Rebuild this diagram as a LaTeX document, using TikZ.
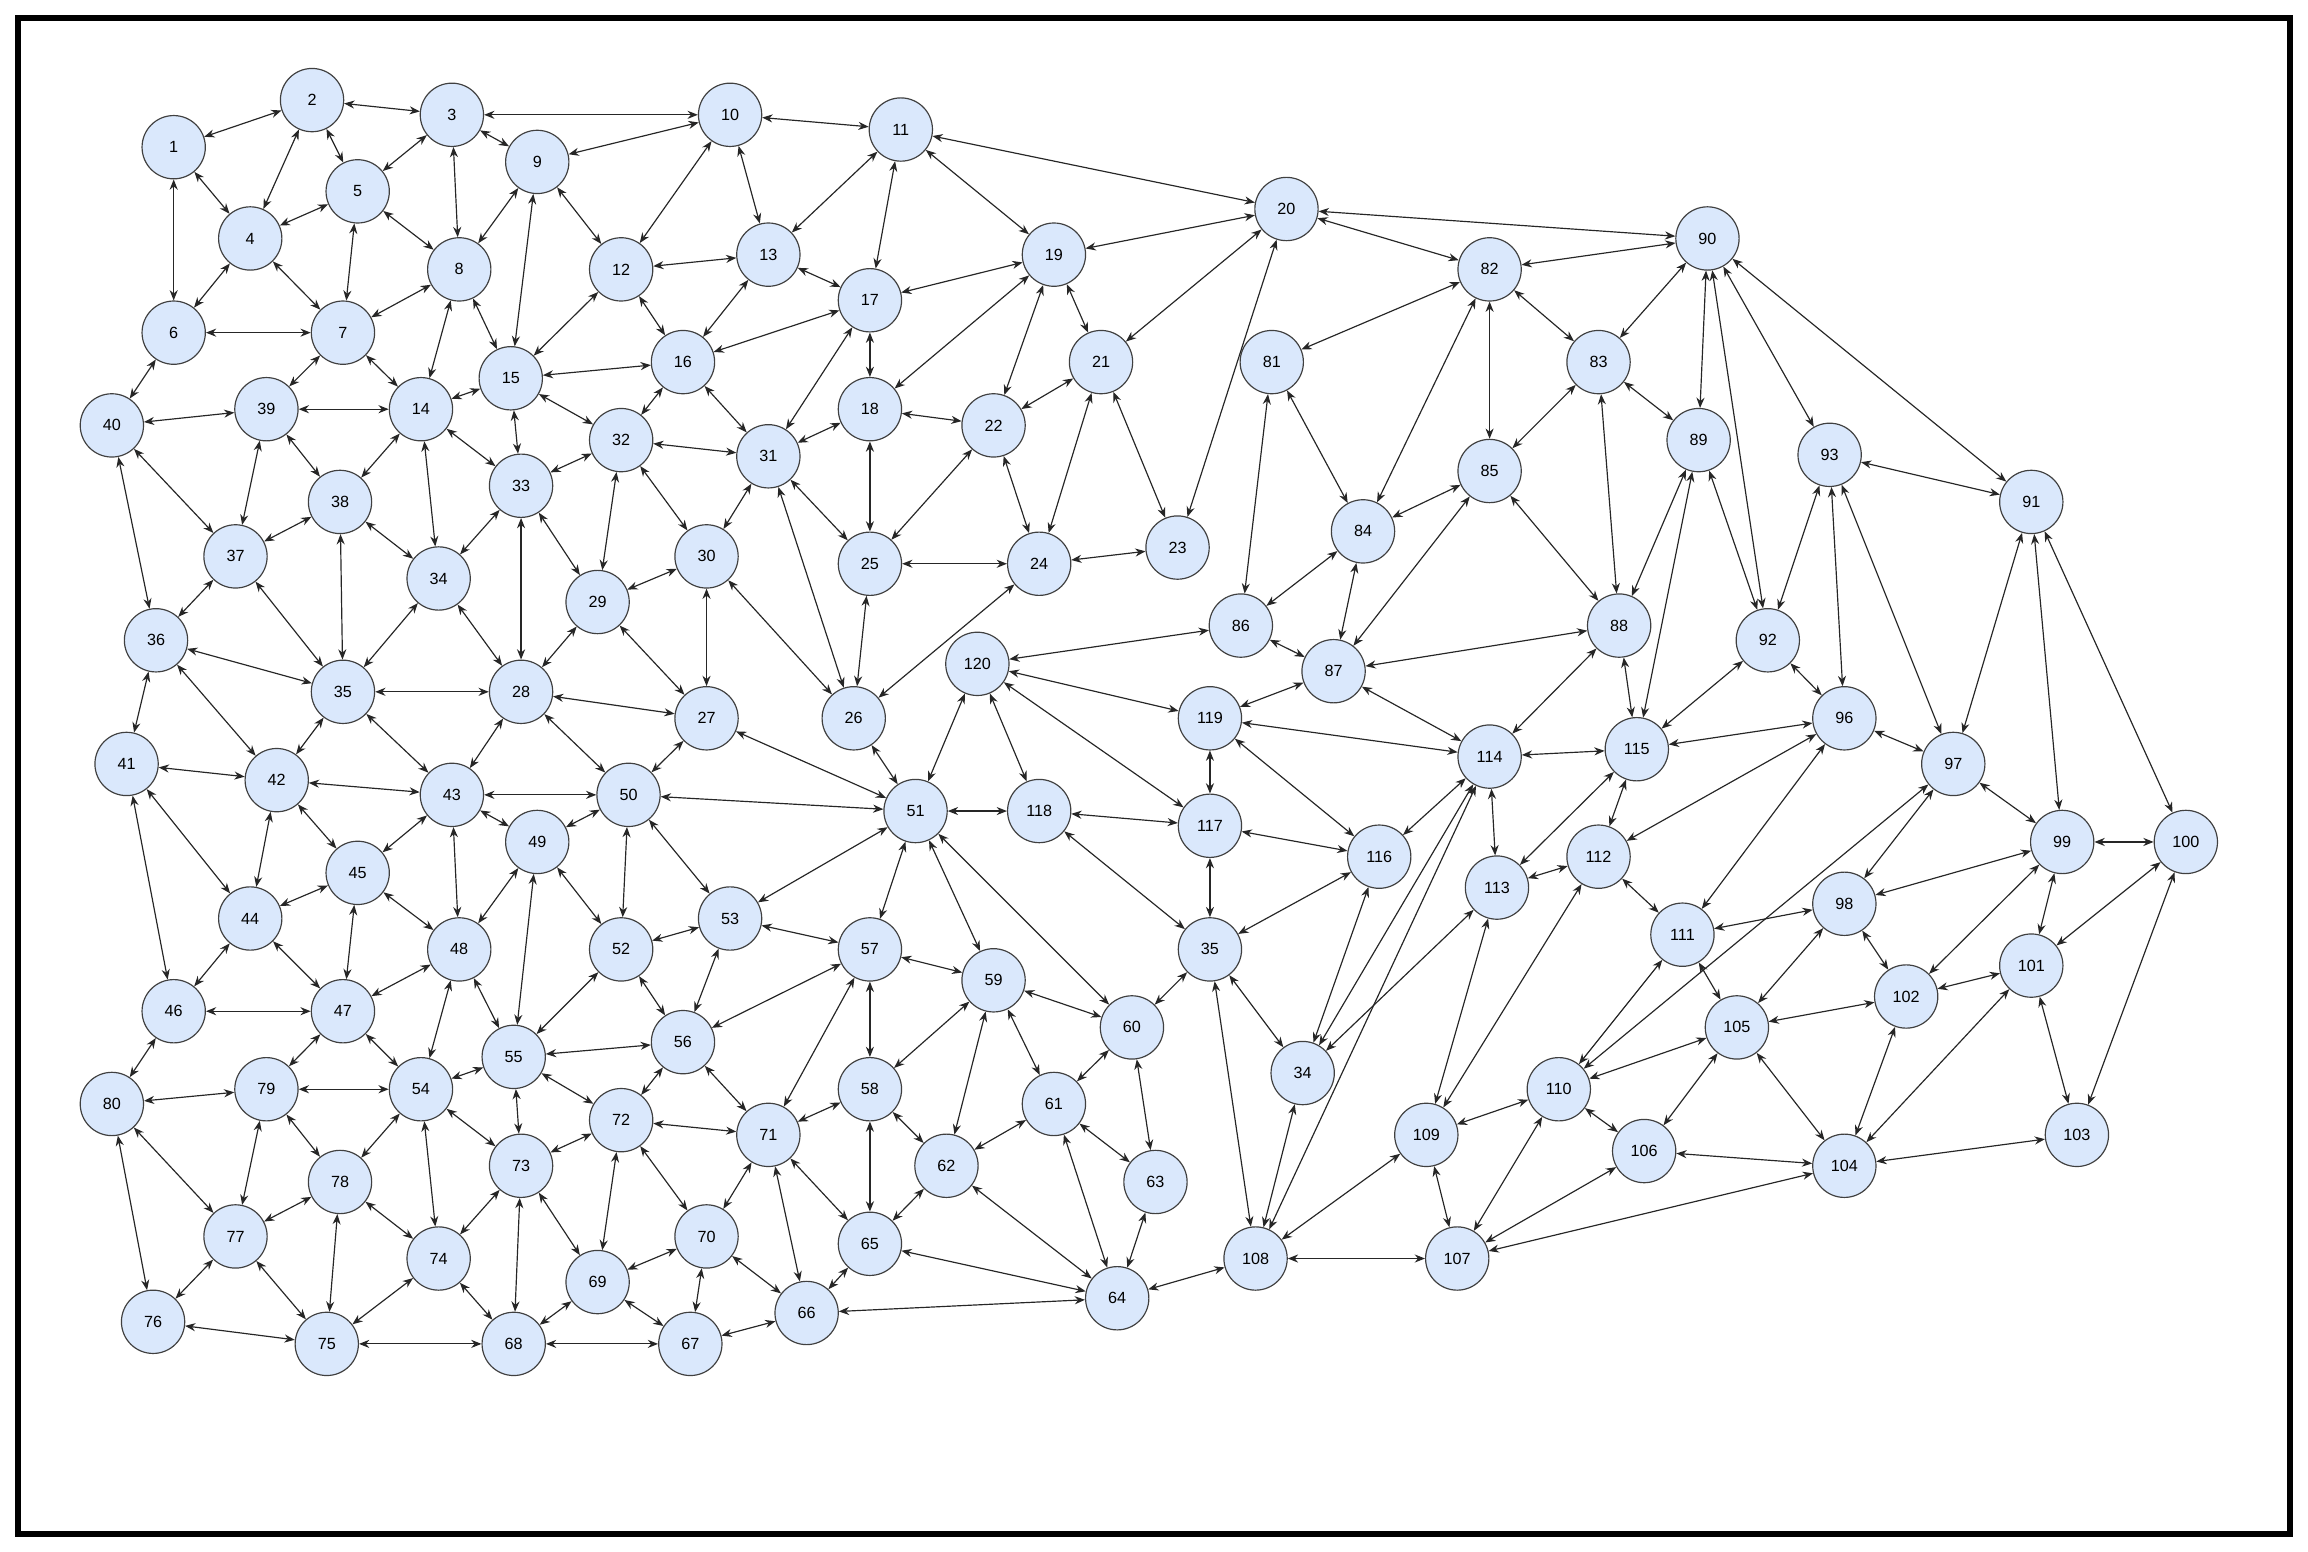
\documentclass[tikz,border=0pt]{standalone}
\usepackage{fontspec}
\setmainfont{Liberation Sans}
\usetikzlibrary{arrows.meta}
\definecolor{nfill}{RGB}{218,232,252}
\begin{document}
\begin{tikzpicture}[x=1pt,y=-1pt,
  nd/.style={circle,draw=black!75,fill=nfill,line width=0.8pt,minimum size=43pt,inner sep=0pt,font=\fontsize{11}{11}\selectfont},
  ed/.style={line width=0.8pt,black!85,{Stealth[length=7pt,width=5.5pt]}-{Stealth[length=7pt,width=5.5pt]}}]
\useasboundingbox (0,0) rectangle (1568,1054);
\draw[line width=4pt] (12,12) rectangle (1556,1042);
\foreach \n/\x/\y/\t in {1/118/100/1,2/212/68/2,3/307/78/3,4/170/162/4,5/243/130/5,6/118/226/6,7/233/226/7,8/312/183/8,9/365/110/9,10/496/78/10,11/612/88/11,12/422/183/12,13/522/173/13,14/286/278/14,15/347/257/15,16/464/246/16,17/591/204/17,18/591/278/18,19/716/173/19,20/874/142/20,21/748/246/21,22/675/289/22,23/800/372/23,24/706/383/24,25/591/383/25,26/580/488/26,27/480/488/27,28/354/470/28,29/406/409/29,30/480/378/30,31/522/310/31,32/422/299/32,33/354/330/33,34/298/393/34,35/233/470/35,36/106/435/36,37/160/378/37,38/231/341/38,39/181/278/39,40/76/289/40,41/86/519/41,42/188/530/42,43/307/540/43,44/170/624/44,45/243/593/45,46/118/687/46,47/233/687/47,48/312/645/48,49/365/572/49,50/427/540/50,51/622/551/51,52/422/645/52,53/496/624/53,54/286/740/54,55/349/718/55,56/464/708/56,57/591/645/57,58/591/740/58,59/675/666/59,60/769/698/60,61/716/750/61,62/643/792/62,63/785/803/63,64/759/882/64,65/591/845/65,66/548/892/66,67/469/913/67,68/349/913/68,69/406/871/69,70/480/840/70,71/522/771/71,72/422/761/72,73/354/792/73,74/298/855/74,75/222/913/75,76/104/898/76,77/160/840/77,78/231/803/78,79/181/740/79,80/76/750/80,81/864/246/81,82/1012/183/82,83/1086/246/83,84/926/361/84,85/1012/320/85,86/843/425/86,87/906/456/87,88/1100/425/88,89/1154/299/89,90/1160/162/90,91/1380/341/91,92/1201/435/92,93/1243/309/93,96/1253/488/96,97/1327/519/97,98/1253/614/98,99/1401/572/99,100/1485/572/100,101/1380/656/101,102/1295/677/102,103/1411/771/103,104/1253/792/104,105/1180/698/105,106/1117/782/106,107/990/855/107,108/853/855/108,109/969/771/109,110/1059/740/110,111/1143/635/111,112/1086/582/112,113/1017/603/113,114/1012/514/114,115/1112/509/115,116/937/582/116,117/822/561/117,118/706/551/118,119/822/488/119,120/664/451/120,35b/822/645/35,34b/885/729/34}
  \node[nd] (n\n) at (\x,\y) {\t};
\foreach \a/\b in {1/2,1/4,1/6,2/4,2/5,2/3,3/5,3/8,3/9,3/10,4/5,4/6,4/7,5/7,5/8,6/7,6/40,7/8,7/14,7/39,8/9,8/14,8/15,9/10,9/12,9/15,10/11,10/12,10/13,11/13,11/17,11/19,11/20,12/13,12/15,12/16,13/16,13/17,14/15,14/33,14/34,14/38,14/39,15/16,15/32,15/33,16/17,16/31,16/32,17/18,17/19,17/31,18/19,18/22,18/25,18/31,19/20,19/21,19/22,20/21,20/23,20/82,20/90,21/22,21/24,21/23,22/24,22/25,24/25,24/23,24/26,25/26,26/30,26/31,26/51,27/28,27/29,27/30,27/50,27/51,28/29,28/33,28/34,28/35,28/43,28/50,29/32,29/33,29/30,30/31,30/32,31/32,31/25,32/33,33/34,34/35,34/38,35/36,35/37,35/38,35/42,35/43,36/37,36/40,36/41,36/42,37/38,37/39,37/40,38/39,39/40,41/42,41/44,41/46,42/43,42/44,42/45,43/45,43/48,43/49,43/50,44/45,44/46,44/47,45/47,45/48,46/47,46/80,47/48,47/54,47/79,48/49,48/54,48/55,49/50,49/52,49/55,50/51,50/52,50/53,51/53,51/57,51/59,51/60,51/118,51/120,52/53,52/55,52/56,53/56,53/57,54/55,54/73,54/74,54/78,54/79,55/56,55/72,55/73,56/57,56/71,56/72,57/58,57/59,57/71,58/59,58/62,58/65,58/71,59/60,59/61,59/62,60/61,60/63,60/35b,61/62,61/63,61/64,62/64,63/64,64/65,64/66,64/108,65/66,65/71,65/62,66/67,66/70,66/71,67/68,67/69,67/70,68/69,68/73,68/74,68/75,69/70,69/72,69/73,70/71,70/72,71/72,72/73,73/74,74/75,74/78,75/76,75/77,75/78,76/77,76/80,77/78,77/79,77/80,78/79,79/80,82/81,82/84,82/85,82/83,82/90,83/85,83/88,83/89,83/90,84/81,84/85,84/86,84/87,85/87,85/88,86/81,86/87,86/120,87/88,87/114,87/119,88/114,88/89,88/115,89/90,89/92,89/115,90/92,90/93,90/91,91/93,91/97,91/99,91/100,92/93,92/96,92/115,93/96,93/97,96/97,96/115,96/112,96/111,97/98,97/99,97/110,98/99,98/102,98/105,98/111,99/100,99/101,99/102,100/101,100/103,101/102,101/103,101/104,102/104,102/105,103/104,104/105,104/106,104/107,105/106,105/111,105/110,106/107,106/110,107/108,107/109,107/110,108/109,108/35b,108/34b,108/114,109/110,109/113,109/112,110/111,111/112,112/113,112/115,113/114,113/115,113/34b,114/115,114/116,114/119,114/34b,116/117,116/119,116/35b,116/34b,117/119,117/120,117/118,118/120,118/35b,119/120,35b/34b,35b/117}
  \draw[ed] (n\a) -- (n\b);
\end{tikzpicture}
\end{document}
